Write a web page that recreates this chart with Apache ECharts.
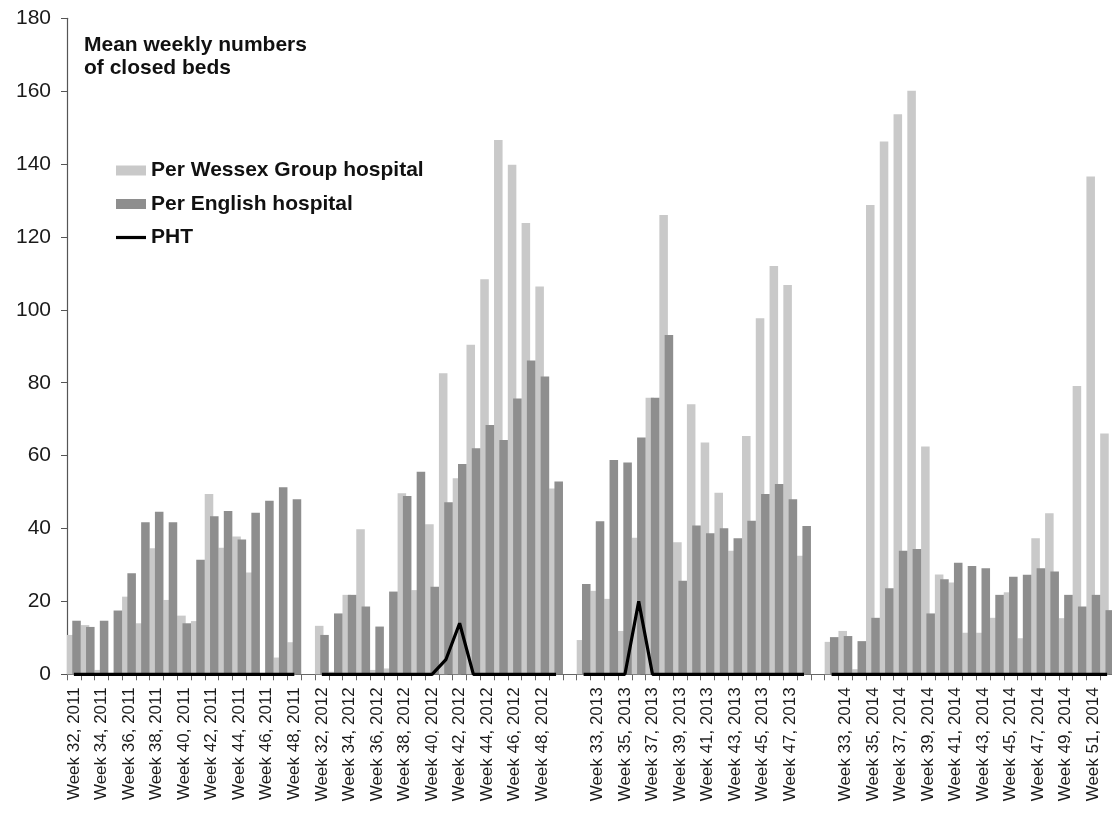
<!DOCTYPE html>
<html>
<head>
<meta charset="utf-8">
<script src="https://cdn.jsdelivr.net/npm/echarts@6/dist/echarts.min.js"></script>
<style>
html,body{margin:0;padding:0;background:#fff;}
#chart{width:1112px;height:816px;}
</style>
</head>
<body>
<div id="chart"></div>
<script>
// ---- categories (week labels per season; blanks separate the seasons) ----
const weeks2011 = [32,33,34,35,36,37,38,39,40,41,42,43,44,45,46,47,48];
const weeks2012 = [32,33,34,35,36,37,38,39,40,41,42,43,44,45,46,47,48,49];
const weeks2013 = [32,33,34,35,36,37,38,39,40,41,42,43,44,45,46,47,48];
const weeks2014 = [32,33,34,35,36,37,38,39,40,41,42,43,44,45,46,47,48,49,50,51,52];

// ---- Per Wessex Group hospital (light bars) ----
const wessex2011 = [10.8,13.5,1.2,0,21.3,14.0,34.6,20.4,16.1,14.6,49.5,34.7,37.8,27.9,0,4.6,8.8];
const wessex2012 = [13.3,0.7,21.8,39.8,1.2,1.6,49.7,23.1,41.2,82.6,53.8,90.4,108.4,146.6,139.8,123.8,106.4,51.0];
const wessex2013 = [9.4,22.9,20.7,11.9,37.5,75.9,126.0,36.2,74.1,63.6,49.8,33.9,65.4,97.7,112.0,106.8,32.5];
const wessex2014 = [8.9,11.9,1.4,128.8,146.2,153.7,160.1,62.5,27.4,25.2,11.4,11.4,15.5,22.5,9.9,37.3,44.2,15.4,79.1,136.6,66.1];

// ---- Per English hospital (dark bars) ----
const english2011 = [14.7,13.0,14.7,17.5,27.7,41.7,44.6,41.7,14.0,31.4,43.4,44.8,37.0,44.3,47.6,51.3,48.0];
const english2012 = [10.8,16.7,21.8,18.6,13.1,22.7,48.9,55.6,24.0,47.2,57.7,62.0,68.4,64.3,75.7,86.1,81.7,52.9];
const english2013 = [24.8,42.0,58.8,58.1,65.0,75.9,93.1,25.7,40.8,38.7,40.1,37.3,42.1,49.5,52.2,48.0,40.7];
const english2014 = [10.2,10.5,9.1,15.5,23.6,33.9,34.4,16.7,26.1,30.6,29.7,29.1,21.8,26.8,27.3,29.1,28.2,21.8,18.6,21.8,17.6];

// ---- PHT (line) ----
const pht2011 = [0,0,0,0,0,0,0,0,0,0,0,0,0,0,0,0,0];
const pht2012 = [0,0,0,0,0,0,0,0,0,4,14,0,0,0,0,0,0,0];
const pht2013 = [0,0,0,0,20,0,0,0,0,0,0,0,0,0,0,0,0];
const pht2014 = [0,0,0,0,0,0,0,0,0,0,0,0,0,0,0,0,0,0,0,0,0];

// ---- y-axis ticks ----
const yMin = 0, yMax = 180, yStep = 20;

const blanks = ['', ' ', '  '];
function lbl(weeks, year){ return weeks.map(w => 'Week ' + w + ', ' + year); }
const categories = [].concat(
  lbl(weeks2011, 2011), [blanks[0]],
  lbl(weeks2012, 2012), [blanks[1]],
  lbl(weeks2013, 2013), [blanks[2]],
  lbl(weeks2014, 2014)
);
function join(a,b,c,d){ return [].concat(a,[null],b,[null],c,[null],d); }
const wessex = join(wessex2011, wessex2012, wessex2013, wessex2014);
const english = join(english2011, english2012, english2013, english2014);
const pht = join(pht2011, pht2012, pht2013, pht2014);

const FONT = '"Liberation Sans", Arial, Helvetica, sans-serif';
const chart = echarts.init(document.getElementById('chart'), null, {renderer:'canvas'});
chart.setOption({
  animation: false,
  backgroundColor: '#ffffff',
  title: {
    text: 'Mean weekly numbers\nof closed beds',
    left: 84, top: 34, padding: 0,
    textStyle: {fontFamily: FONT, fontWeight: 'bold', fontSize: 21, lineHeight: 23, color: '#111'}
  },
  legend: {
    orient: 'vertical',
    left: 116, top: 160, padding: 0,
    itemWidth: 30, itemHeight: 10, itemGap: 12.5,
    textStyle: {fontFamily: FONT, fontWeight: 'bold', fontSize: 21, lineHeight: 20, color: '#111'},
    data: [
      {name: 'Per Wessex Group hospital', icon: 'rect'},
      {name: 'Per English hospital', icon: 'rect'},
      {name: 'PHT', icon: 'path://M0,0L30,0L30,3.2L0,3.2Z'}
    ]
  },
  grid: {left: 67, right: -2, top: 18.3, bottom: 141.7, containLabel: false, outerBoundsMode: 'none'},
  xAxis: {
    type: 'category',
    data: categories,
    boundaryGap: true,
    axisLine: {lineStyle: {color: '#666', width: 1}},
    axisTick: {show: true, interval: 0, alignWithLabel: false, length: 6, lineStyle: {color: '#666'}},
    axisLabel: {interval: 1, rotate: 90, margin: 13, padding: [8,0,0,0], fontFamily: FONT, fontSize: 17, color: '#1a1a1a'},
    splitLine: {show: false}
  },
  yAxis: {
    type: 'value',
    min: yMin, max: yMax, interval: yStep,
    axisLine: {show: true, lineStyle: {color: '#555', width: 1.2}},
    axisTick: {show: true, length: 6, lineStyle: {color: '#555'}},
    axisLabel: {margin: 16, fontFamily: FONT, fontSize: 21, color: '#1a1a1a'},
    splitLine: {show: false}
  },
  series: [
    {
      name: 'Per Wessex Group hospital', type: 'bar', data: wessex,
      barWidth: '62%', barGap: '-38%',
      itemStyle: {color: '#c9c9c9'}
    },
    {
      name: 'Per English hospital', type: 'bar', data: english,
      barWidth: '62%', barGap: '-38%',
      itemStyle: {color: '#8e8e8e'}
    },
    {
      name: 'PHT', type: 'line', data: pht,
      symbol: 'none', connectNulls: false, z: 5,
      lineStyle: {color: '#000', width: 3.2},
      itemStyle: {color: '#000'}
    }
  ]
});
</script>
</body>
</html>
